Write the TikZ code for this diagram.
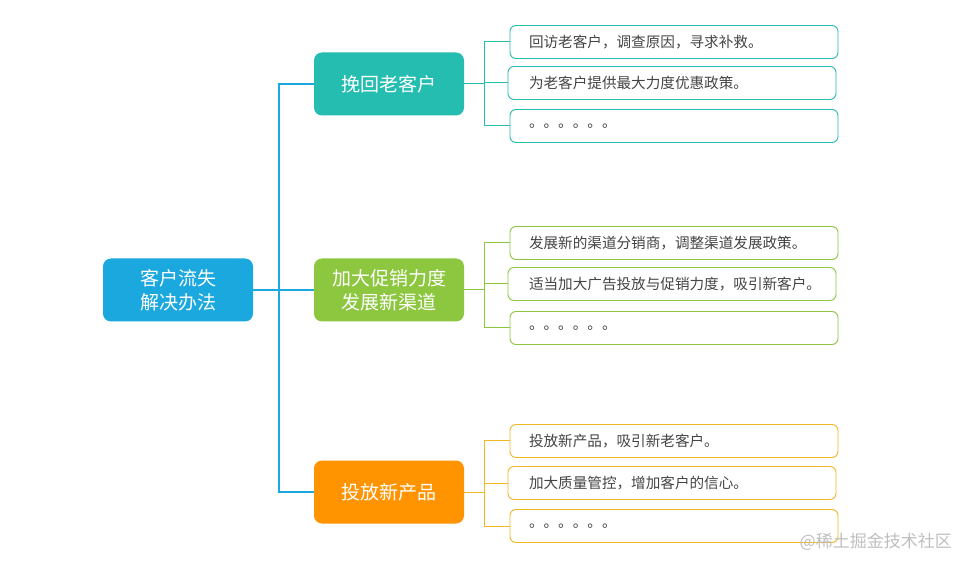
\documentclass[tikz,border=0pt]{standalone}
\usepackage{fontspec}
\setmainfont{Noto Sans CJK SC}
\usepackage{tikz}

\definecolor{rootblue}{HTML}{1BA8DE}
\definecolor{tealc}{HTML}{24BDB0}
\definecolor{greenc}{HTML}{8DC63F}
\definecolor{orangec}{HTML}{FF9400}
\definecolor{yellowc}{HTML}{F3B726}
\definecolor{leaftext}{HTML}{444444}

\tikzset{
  rootbox/.style={fill=rootblue, text=white, rounded corners=8pt, minimum width=150pt, minimum height=63pt, align=center, font=\fontsize{19}{24}\selectfont},
  branchbox/.style={fill=#1, text=white, rounded corners=8pt, minimum width=150pt, minimum height=63pt, align=center, font=\fontsize{19}{24}\selectfont},
  leafbox/.style={draw=#1, line width=0.9pt, rounded corners=6pt, minimum width=328pt, minimum height=33pt, text width=290pt, inner xsep=19pt, align=left, text=leaftext, font=\fontsize{14.6}{16}\selectfont},
  leafshift/.style={inner xsep=21pt, text width=286pt},
  mainline/.style={draw=rootblue, line width=1.8pt},
  subline/.style={draw=#1, line width=1pt},
}

\begin{document}
\begin{tikzpicture}[x=1pt,y=-1pt]
\useasboundingbox[fill=white] (0,0) rectangle (970,569);

% Root
\node [rootbox] (root) at (178,290) {客户流失\\解决办法};

% Branches
\node [branchbox=tealc] (b1) at (389,84) {挽回老客户};
\node [branchbox=greenc] (b2) at (389,290) {加大促销力度\\发展新渠道};
\node [branchbox=orangec] (b3) at (389,492) {投放新产品};

% Leaves of branch 1
\node [leafbox=tealc] (l11) at (674,42) {回访老客户，调查原因，寻求补救。};
\node [leafbox=tealc, leafshift] (l12) at (672,83) {为老客户提供最大力度优惠政策。};
\node [leafbox=tealc] (l13) at (674,126) {。。。。。。};

% Leaves of branch 2
\node [leafbox=greenc] (l21) at (674,243) {发展新的渠道分销商，调整渠道发展政策。};
\node [leafbox=greenc, leafshift] (l22) at (672,284) {适当加大广告投放与促销力度，吸引新客户。};
\node [leafbox=greenc] (l23) at (674,328) {。。。。。。};

% Leaves of branch 3
\node [leafbox=yellowc] (l31) at (674,441) {投放新产品，吸引新老客户。};
\node [leafbox=yellowc, leafshift] (l32) at (672,483) {加大质量管控，增加客户的信心。};
\node [leafbox=yellowc] (l33) at (674,526) {。。。。。。};

% Root to branches
\draw [mainline] (root.east) -- ++(26,0) |- (b1.west);
\draw [mainline] (root.east) -- ++(26,0) |- (b2.west);
\draw [mainline] (root.east) -- ++(26,0) |- (b3.west);

% Branches to leaves
\foreach \b/\c in {1/tealc,2/greenc,3/yellowc}{
  \foreach \l in {1,2,3}{
    \draw [subline=\c] (b\b.east) -- ++(20,0) |- (l\b\l.west);
  }
}

% Watermark
\node [anchor=east, text=gray!50, font=\fontsize{17}{19}\selectfont, inner sep=0pt] (mark) at (952,542) {@稀土掘金技术社区};

\end{tikzpicture}
\end{document}
